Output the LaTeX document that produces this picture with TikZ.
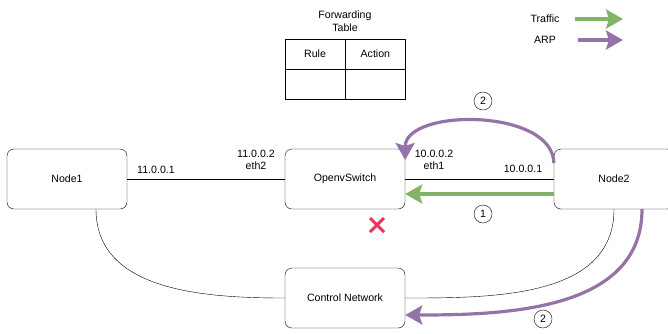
\documentclass[tikz,border=0pt]{standalone}
\usepackage{fontspec}
\setmainfont{Liberation Sans}
\usetikzlibrary{
  arrows.meta,
  positioning,
  calc
}
\tikzset{
  every node/.style={font=\fontsize{10.6}{12.5}\selectfont},
  box/.style={draw,rounded corners=7pt,minimum width=120pt,minimum height=60pt},
  cell/.style={draw,minimum width=60pt,minimum height=30pt,inner sep=0pt},
  link/.style={draw,thin},
  traffic/.style={draw=trafficc,line width=3.2pt,-{Stealth[length=17pt,width=19pt,inset=3pt]}},
  arp/.style={draw=arpc,line width=3.2pt,-{Stealth[length=17pt,width=19pt,inset=3pt]}},
  step label/.style={draw,circle,inner sep=1pt,minimum size=18pt},
}
\definecolor{trafficc}{HTML}{82B366}
\definecolor{arpc}{HTML}{9673A6}
\definecolor{blocked}{HTML}{E8385A}

\begin{document}
\begin{tikzpicture}[x=1pt,y=-1pt]
\useasboundingbox (0,0) rectangle (668,333);
\node[box] (n1) at (67,179) {Node1};
\node[box] (sw) at (345,179) {OpenvSwitch};
\node[box] (n2) at (614,179) {Node2};
\node[box] (ctl) at (345,298) {Control Network};
% forwarding table
\node[align=center] (title) at (345,21) {Forwarding\\Table};
\node[cell] (rule) at (315,54) {Rule};
\node[cell,right=0pt of rule] (action) {Action};
\node[cell,below=0pt of rule] (ruleval) {};
\node[cell,below=0pt of action] (actionval) {};
% legend
\node (ltraffic) at (545,19) {Traffic};
\node (larp) at (545,40) {ARP};
\coordinate (ltrafficend) at (623,19);
\coordinate (larpend) at (623,40);
\draw[traffic] ([xshift=12pt]ltraffic.east) -- (ltrafficend);
\draw[arp] ([xshift=19pt]larp.east) -- (larpend);
% links
\draw[link] (n1) -- (sw);
\draw[link] (sw) -- (n2);
\draw[link] ([xshift=29pt]n1.south) to[out=-90,in=180] (ctl.west);
\draw[link] (n2.south) to[out=-90,in=0] (ctl.east);
\node (ipa) at (156,170) {11.0.0.1};
\node[align=center] (ipb) at (256,160) {11.0.0.2\\eth2};
\node[align=center] (ipc) at (434,160) {10.0.0.2\\eth1};
\node (ipd) at (523,169) {10.0.0.1};
% arrows
\draw[traffic] ([yshift=-15pt]n2.west) -- ([yshift=-15pt]sw.east);
\draw[arp] ([yshift=16pt]n2.west) .. controls (553,108) and (405,108) .. ([yshift=19pt]sw.east);
\draw[arp] ([xshift=28pt]n2.south) to[out=-90,in=0] ([yshift=-17pt]ctl.east);
\node[step label] (s1) at (483,214) {1};
\node[step label] (s2) at (483,101) {2};
\node[step label] (s3) at (543,319) {2};
\draw[blocked,line width=3pt] (370,218) -- (384,232) (384,218) -- (370,232);
\end{tikzpicture}
\end{document}
